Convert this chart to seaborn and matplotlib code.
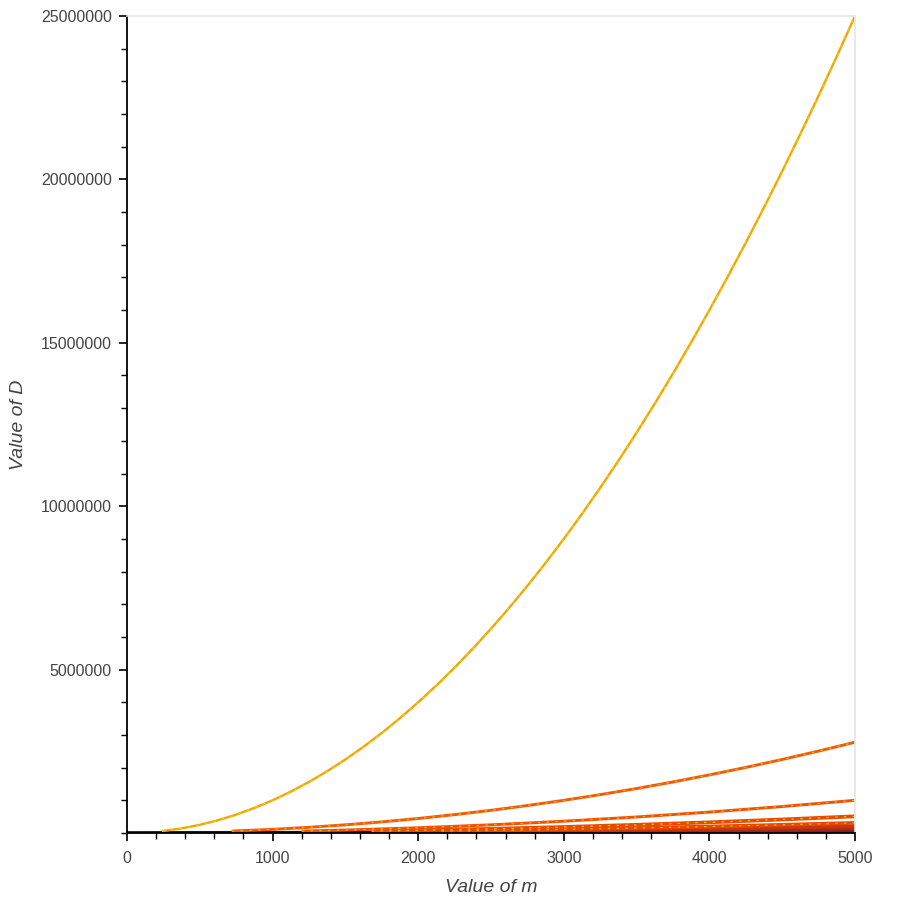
import pandas as pd
import numpy as np
import matplotlib
matplotlib.use('Agg')
import matplotlib.pyplot as plt
import seaborn as sns
from matplotlib.ticker import MultipleLocator, FuncFormatter

# ── Data (value of m vs value of D) ────────────────────────────────────────────
m_k1 = [240, 375, 500, 625, 750, 875, 1000, 1125, 1250, 1375, 1500, 1625,
        1750, 1875, 2000, 2125, 2250, 2375, 2500, 2625, 2750, 2875, 3000,
        3125, 3250, 3375, 3500, 3625, 3750, 3875, 4000, 4125, 4250, 4375,
        4500, 4625, 4750, 4875, 5000]
d_k1 = [57600, 140600, 250000, 390600, 562500, 765600, 1000000, 1265600,
        1562500, 1890600, 2250000, 2640600, 3062500, 3515600, 4000000,
        4515600, 5062500, 5640600, 6250000, 6890600, 7562500, 8265600,
        9000000, 9765600, 10562500, 11390600, 12250000, 13140600, 14062500,
        15015600, 16000000, 17015600, 18062500, 19140600, 20250000, 21390600,
        22562500, 23765600, 25000000]

m_k3 = [720, 1000, 1250, 1500, 1750, 2000, 2250, 2500, 2750, 3000, 3250,
        3500, 3750, 4000, 4250, 4500, 4750, 5000]
d_k3 = [58000, 111000, 174000, 250000, 340000, 444000, 562000, 694000,
        840000, 1000000, 1174000, 1361000, 1562000, 1778000, 2007000,
        2250000, 2507000, 2778000]

m_k5 = [1200, 1500, 2000, 2500, 3000, 3500, 4000, 4500, 5000]
d_k5 = [57600, 90000, 160000, 250000, 360000, 490000, 640000, 810000, 1000000]

m_k7 = [1680, 2000, 2500, 3000, 3500, 4000, 4500, 5000]
d_k7 = [57600, 81600, 127600, 183700, 250000, 326500, 413300, 510200]

m_k9 = [2160, 2500, 3000, 3500, 4000, 4500, 5000]
d_k9 = [57600, 77200, 111100, 151200, 197500, 250000, 308600]

m_k11 = [2640, 3000, 3500, 4000, 4500, 5000]
d_k11 = [57600, 74400, 101200, 132200, 167400, 206600]

m_k13 = [3120, 3500, 4000, 4500, 5000]
d_k13 = [57600, 72500, 94700, 119800, 147900]

m_k15 = [3600, 4000, 4500, 5000]
d_k15 = [57600, 71100, 90000, 111100]

m_k17 = [4080, 4500, 5000]
d_k17 = [57600, 70100, 86500]

m_k19 = [4560, 5000]
d_k19 = [57600, 69300]

m_base = [0, 700, 1500, 2500, 3500, 5000]
d_base = [15000, 20000, 25000, 30000, 35000, 40000]

curves = {
    '1': (m_k1, d_k1), '3': (m_k3, d_k3), '5': (m_k5, d_k5),
    '7': (m_k7, d_k7), '9': (m_k9, d_k9), '11': (m_k11, d_k11),
    '13': (m_k13, d_k13), '15': (m_k15, d_k15), '17': (m_k17, d_k17),
    '19': (m_k19, d_k19), 'base': (m_base, d_base),
}
palette = {
    '1': '#f2a600', '3': '#f25a05', '5': '#f05000', '7': '#ea4a00',
    '9': '#e64a00', '11': '#c83412', '13': '#a8281a', '15': '#8c2422',
    '17': '#702028', '19': '#541830', 'base': '#2c0c22',
}
widths = {'1': 1.7, '3': 2.1, '5': 2.1, 'base': 2.0}

df = pd.concat([pd.DataFrame({'m': m, 'D': d, 'k': k})
                for k, (m, d) in curves.items()], ignore_index=True)

# ── Plot ──────────────────────────────────────────────────────────────────────
sns.set_theme(style='white')
plt.rcParams['font.family'] = ['Liberation Sans', 'DejaVu Sans']

fig = plt.figure(figsize=(9, 9), dpi=100, facecolor='white')
ax = fig.add_axes([127 / 900, 67 / 900, 728 / 900, 817 / 900])

order = ['base', '19', '17', '15', '13', '11', '9', '7', '5', '3', '1']
for k in order:
    sub = df[df['k'] == k]
    sns.lineplot(data=sub, x='m', y='D', color=palette[k],
                 linewidth=widths.get(k, 2.7), sort=True, estimator=None,
                 ax=ax, legend=False, solid_capstyle='butt')

# yellow speckle on the curves (datashader-like texture)
for k, col in [('1', '#f5cc00'), ('3', '#f0b400'), ('5', '#f0b400'),
               ('7', '#eec000'), ('9', '#eeb000')]:
    sub = df[df['k'] == k]
    ax.plot(sub['m'], sub['D'], color=col, linewidth=0.9,
            linestyle=(0, (2, 5)))

ax.set_xlim(0, 5000)
ax.set_ylim(0, 25000000)

ax.set_xticks([0, 1000, 2000, 3000, 4000, 5000])
ax.set_yticks([5000000, 10000000, 15000000, 20000000, 25000000])
ax.xaxis.set_minor_locator(MultipleLocator(200))
ax.yaxis.set_minor_locator(MultipleLocator(1000000))
ax.yaxis.set_major_formatter(FuncFormatter(lambda v, p: f'{int(v)}'))
ax.xaxis.set_major_formatter(FuncFormatter(lambda v, p: f'{int(v)}'))

ax.tick_params(which='major', direction='out', length=6, width=1.2, pad=5,
               colors='black', labelcolor='#444444', labelsize=11.5,
               bottom=True, left=True)
ax.tick_params(axis='x', which='major', pad=7)
ax.tick_params(which='minor', direction='out', length=4, width=1,
               colors='black', bottom=True, left=True)

ax.set_xlabel('Value of m', fontsize=14, fontstyle='italic', color='#444444',
              labelpad=9)
ax.set_ylabel('Value of D', fontsize=14, fontstyle='italic', color='#444444',
              labelpad=10)

for side in ['left', 'bottom']:
    ax.spines[side].set_color('black')
    ax.spines[side].set_linewidth(1.3)
for side in ['top', 'right']:
    ax.spines[side].set_color('#e5e5e5')
    ax.spines[side].set_linewidth(1.2)

plt.savefig('out.png', dpi=100, facecolor='white')
plt.close()
